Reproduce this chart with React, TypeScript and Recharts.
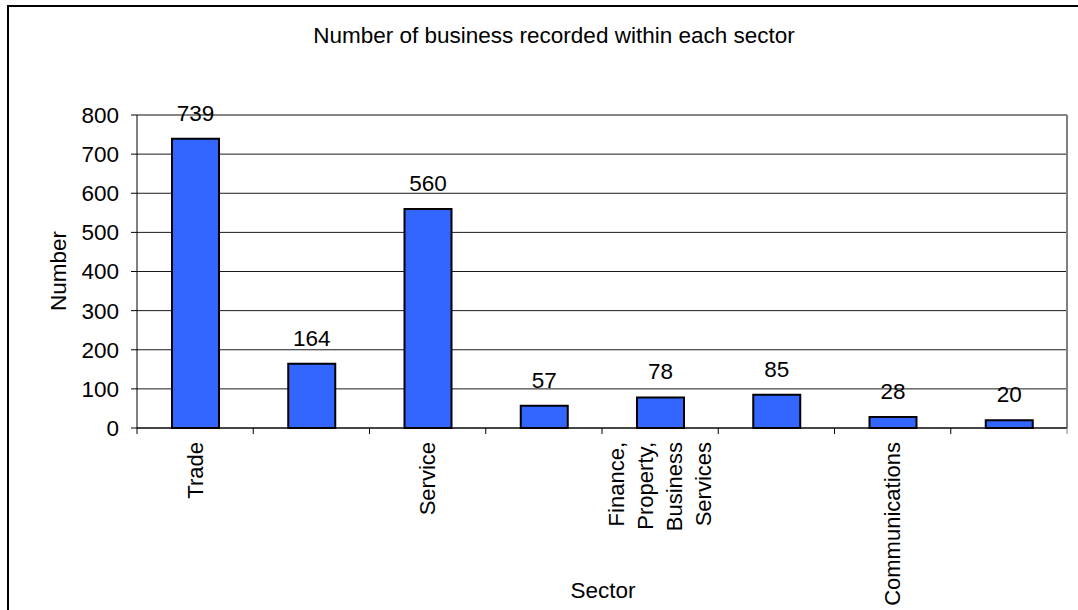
import React from "react";
import {
  BarChart,
  Bar,
  XAxis,
  YAxis,
  CartesianGrid,
  LabelList,
  usePlotArea,
} from "recharts";

const sectors = [
  "Trade",
  "Manufacturing",
  "Service",
  "Construction",
  "Finance, Property, Business Services",
  "Transport",
  "Communications",
  "Other",
];
const counts = [739, 164, 560, 57, 78, 85, 28, 20];
const yTicks = [0, 100, 200, 300, 400, 500, 600, 700, 800];

const data = sectors.map((sector, i) => ({ sector, count: counts[i] }));

const FONT = "'Liberation Sans', Arial, sans-serif";
const FS = 22.5;
const W = 1078;
const H = 610;
const margin = { top: 115, right: 11, bottom: 152, left: 77 };
const band = (W - margin.left - 60 - margin.right) / sectors.length;

// Excel-style category axis: tick marks sit between categories,
// labels rotated and only every second one shown
function SectorTick(props: any) {
  const { x, y, index, payload } = props;
  const left = x - band / 2;
  const isLast = index === sectors.length - 1;
  const words: string[] =
    index % 2 === 0 ? String(payload.value).split(" ") : [];
  const lines = words.length > 1 ? words : words.length ? [words.join(" ")] : [];
  const gap = 29;
  return (
    <g>
      <line x1={left} x2={left} y1={y} y2={y + 6} stroke="#000" />
      {isLast && (
        <line x1={x + band / 2} x2={x + band / 2} y1={y} y2={y + 6} stroke="#808080" />
      )}
      {lines.map((ln, i) => {
        const cx = x + (i - (lines.length - 1) / 2) * gap;
        const ty = y + 14;
        return (
          <text
            key={i}
            x={cx}
            y={ty}
            transform={`rotate(-90, ${cx}, ${ty})`}
            textAnchor="end"
            dominantBaseline="central"
            fontSize={22}
            fontFamily={FONT}
            fill="#000"
          >
            {ln}
          </text>
        );
      })}
    </g>
  );
}

function PlotFrame() {
  const area = usePlotArea();
  if (!area) return null;
  const right = area.x + area.width;
  return (
    <g>
      <line x1={area.x} x2={right} y1={area.y} y2={area.y} stroke="#808080" />
      <line
        x1={right}
        x2={right}
        y1={area.y}
        y2={area.y + area.height}
        stroke="#808080"
        strokeWidth={2}
      />
    </g>
  );
}

export default function App() {
  return (
    <div
      style={{
        position: "fixed",
        left: 0,
        top: 0,
        width: W,
        height: H,
        background: "#fff",
        fontFamily: FONT,
        overflow: "hidden",
      }}
    >
      <div
        style={{
          position: "absolute",
          left: 7,
          top: 5,
          width: W + 20,
          height: H + 20,
          borderLeft: "2px solid #000",
          borderTop: "2px solid #000",
        }}
      />
      <div
        style={{
          position: "absolute",
          left: 0,
          width: 1108,
          top: 21,
          textAlign: "center",
          fontSize: FS,
          lineHeight: "30px",
          color: "#000",
        }}
      >
        Number of business recorded within each sector
      </div>
      <div
        style={{
          position: "absolute",
          left: 59,
          top: 271,
          transform: "translate(-50%, -50%) rotate(-90deg)",
          fontSize: FS,
          whiteSpace: "nowrap",
          color: "#000",
        }}
      >
        Number
      </div>
      <div
        style={{
          position: "absolute",
          left: 603,
          top: 591,
          transform: "translate(-50%, -50%)",
          fontSize: FS,
          whiteSpace: "nowrap",
          color: "#000",
        }}
      >
        Sector
      </div>
      <div style={{ position: "absolute", left: 0, top: 0 }}>
        <BarChart width={W} height={H} data={data} margin={margin} barSize={47}>
          <CartesianGrid vertical={false} stroke="#000" strokeOpacity={0.9} />
          <XAxis
            dataKey="sector"
            interval={0}
            height={30}
            tickSize={0}
            tickMargin={0}
            tickLine={false}
            axisLine={{ stroke: "#000" }}
            tick={<SectorTick />}
          />
          <YAxis
            width={60}
            domain={[0, 800]}
            ticks={yTicks}
            interval={0}
            tickSize={6}
            tickMargin={12}
            tickLine={{ stroke: "#000" }}
            axisLine={{ stroke: "#000" }}
            tick={{ fontSize: FS, fill: "#000", fontFamily: FONT }}
          />
          <Bar
            dataKey="count"
            fill="#3366FF"
            stroke="#000"
            strokeWidth={2}
            isAnimationActive={false}
          >
            <LabelList
              dataKey="count"
              position="top"
              offset={18}
              fontSize={FS}
              fill="#000"
              fontFamily={FONT}
            />
          </Bar>
          <PlotFrame />
        </BarChart>
      </div>
    </div>
  );
}
